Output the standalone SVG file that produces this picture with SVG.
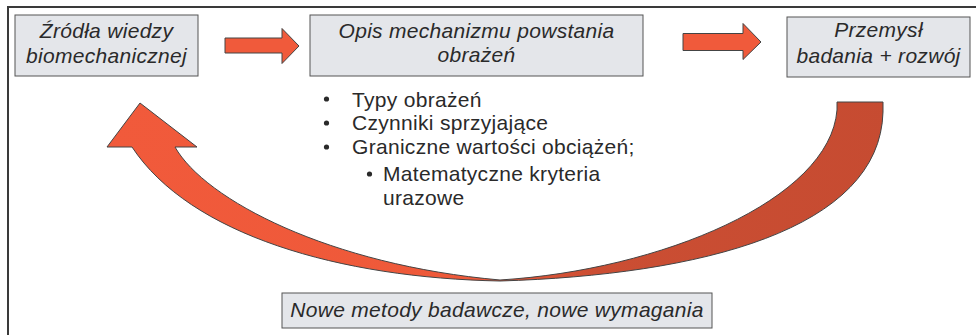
<svg xmlns="http://www.w3.org/2000/svg" width="976" height="335" viewBox="0 0 976 335">
<defs>
<style>
.box{fill:#E4E6EA;stroke:#555;stroke-width:1}
.bt{font-family:"Liberation Sans",Arial,sans-serif;font-style:italic;font-size:21px;letter-spacing:0.3px;fill:#2a2a2a;text-anchor:middle}
.li{font-family:"Liberation Sans",Arial,sans-serif;font-size:21px;letter-spacing:0.3px;fill:#2a2a2a}
.bu{fill:#2a2a2a}
.arr{fill:#F05A3B;stroke:#444;stroke-width:1;stroke-linejoin:miter}
</style>
<linearGradient id="g" gradientUnits="userSpaceOnUse" x1="100" y1="0" x2="900" y2="0">
<stop offset="0" stop-color="#F15A3B"/>
<stop offset="0.47" stop-color="#EE5939"/>
<stop offset="0.62" stop-color="#CB4E33"/>
<stop offset="1" stop-color="#C64B31"/>
</linearGradient>
</defs>
<rect width="976" height="335" fill="#fff"/>
<path d="M8,335 V7 H976" fill="none" stroke="#3a3a3a" stroke-width="2"/>

<g id="connectors">
<path class="arr" d="M225,38 H282 V28.5 L299,46 L282,63.5 V53 H225 Z"/>
<path class="arr" d="M683,33.5 H743 V23.5 L761,42 L743,59.5 V50.5 H683 Z"/>
<path d="M140,103 L197,147 H175 C205,200 330,265 500,280 C660,270 830,200 837,110 V102 H883 V112 C880,230 700,275 500,281 C340,278 190,235 132,147 H107 Z" fill="url(#g)" stroke="#444" stroke-width="1"/>
</g>

<g id="node-zrodla">
<rect class="box" x="15" y="15" width="183" height="61"/>
<text class="bt" x="106.5" y="38">Źródła wiedzy</text>
<text class="bt" x="106.5" y="63">biomechanicznej</text>
</g>

<g id="node-opis">
<rect class="box" x="310" y="15" width="333" height="61"/>
<text class="bt" x="476.5" y="38">Opis mechanizmu powstania</text>
<text class="bt" x="476.5" y="62">obrażeń</text>
</g>

<g id="node-przemysl">
<rect class="box" x="787" y="17" width="183" height="60"/>
<text class="bt" x="878.5" y="37">Przemysł</text>
<text class="bt" x="878.5" y="63">badania + rozwój</text>
</g>

<g id="node-nowe">
<rect class="box" x="282" y="293" width="430" height="35"/>
<text class="bt" x="497" y="317">Nowe metody badawcze, nowe wymagania</text>
</g>

<g id="list">
<circle class="bu" cx="326.5" cy="99" r="2.6"/>
<text class="li" x="352" y="107">Typy obrażeń</text>
<circle class="bu" cx="326.5" cy="123" r="2.6"/>
<text class="li" x="352" y="130">Czynniki sprzyjające</text>
<circle class="bu" cx="326.5" cy="147" r="2.6"/>
<text class="li" x="352" y="154">Graniczne wartości obciążeń;</text>
<circle class="bu" cx="369.5" cy="174" r="2.6"/>
<text class="li" x="383" y="181">Matematyczne kryteria</text>
<text class="li" x="383" y="205">urazowe</text>
</g>
</svg>
